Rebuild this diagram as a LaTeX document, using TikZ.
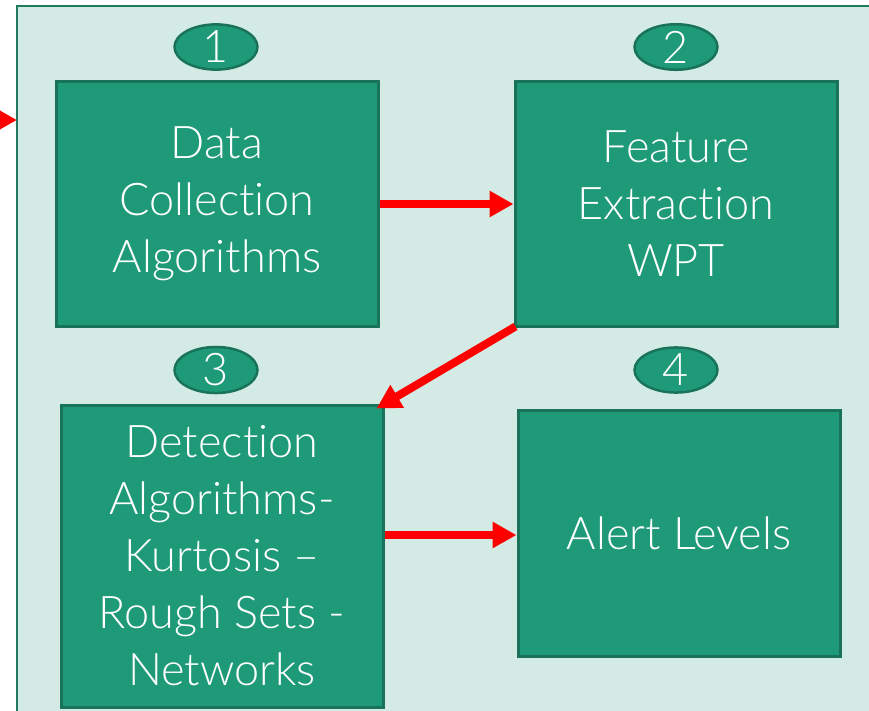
\documentclass[tikz,border=0pt]{standalone}
\usepackage{fontspec}
\setmainfont{Lato Light}[Ligatures=NoCommon]
\usetikzlibrary{arrows.meta,calc,shapes.geometric}

\definecolor{panelfill}{HTML}{D3EBE4}
\definecolor{panelline}{HTML}{1F7A5E}
\definecolor{boxfill}{HTML}{1F9A78}
\definecolor{boxline}{HTML}{18735A}
\definecolor{flowred}{HTML}{FF0000}

\tikzset{
  stage/.style={draw=boxline, fill=boxfill, line width=3pt, inner sep=0pt,
    text=white, align=center,
    font=\fontsize{45}{57}\selectfont},
  badge/.style={ellipse, draw=boxline, fill=boxfill, line width=2.5pt,
    inner sep=0pt, minimum width=83pt, minimum height=44pt,
    text=white, font=\fontsize{45}{45}\selectfont},
  flow/.style={draw=flowred, line width=8pt,
    -{Triangle[length=24pt,width=25pt]}},
}

\begin{document}
\begin{tikzpicture}[x=1pt, y=-1pt]
  \useasboundingbox (0,0) rectangle (869,710);
  \clip (0,0) rectangle (869,710);

  % surrounding panel (runs past the right and lower edges)
  \draw[panelline, fill=panelfill, line width=2pt] (17,6) rectangle (920,760);

  % process stages
  \node[stage, minimum width=322pt, minimum height=245pt] (b1) at (217,203.5)
    {Data\\Collection\\Algorithms};
  \node[stage, minimum width=322pt, minimum height=245pt] (b2) at (676,203.5)
    {Feature\\Extraction\\WPT};
  \node[stage, minimum width=322pt, minimum height=302pt] (b3) at (222,556)
    {Detection\\Algorithms-\\Kurtosis --\\Rough Sets -\\Networks};
  \node[stage, minimum width=322pt, minimum height=246pt] (b4) at (679,533)
    {Alert Levels};

  % step numbers
  \node[badge] (n1) at (216,47) {1};
  \node[badge] (n2) at (676,47) {2};
  \node[badge] (n3) at (216,370) {3};
  \node[badge] (n4) at (676,370) {4};

  % flow arrows
  \coordinate (feed) at (-40,120);
  \coordinate (entry) at (17,120);
  \draw[flow] (feed) -- (entry);
  \draw[flow] (b1.east |- 0,204) -- (b2.west |- 0,204);
  \draw[flow] ($(b2.south west)+(2,-1)$) -- ($(b3.north east)+(-8,5)$);
  \draw[flow] (b3.east |- 0,535) -- (b4.west |- 0,535);
\end{tikzpicture}
\end{document}
